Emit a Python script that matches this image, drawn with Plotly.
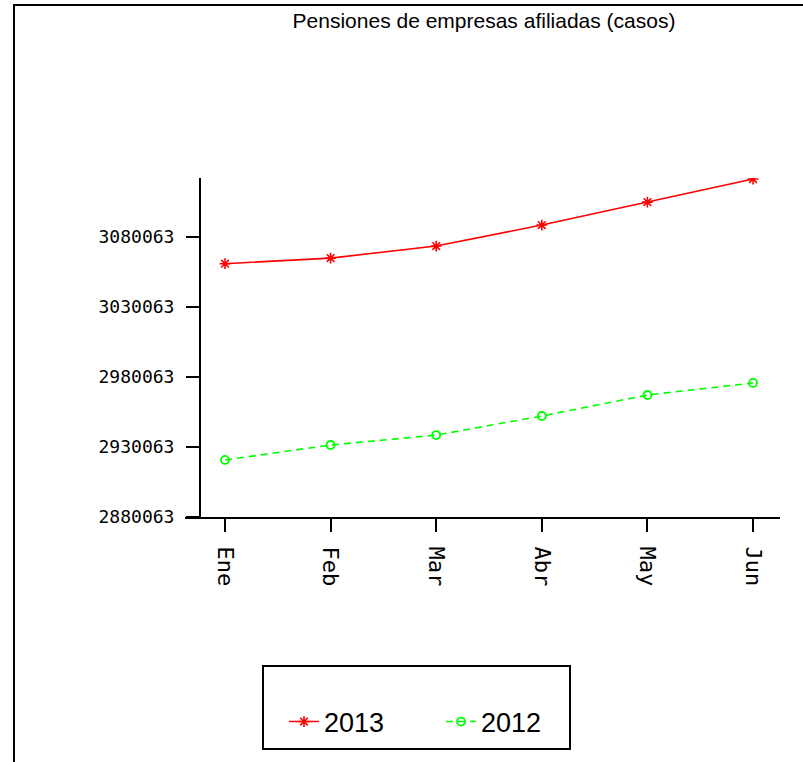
import plotly.graph_objects as go

# ---- data ----
months = ["Ene", "Feb", "Mar", "Abr", "May", "Jun"]
series_2013 = [3061000, 3065000, 3073600, 3088600, 3105000, 3121500]
series_2012 = [2920800, 2931500, 2938600, 2952200, 2967200, 2975800]
y_ticks = [2880063, 2930063, 2980063, 3030063, 3080063]
y_tick_labels = ["2880063", "2930063", "2980063", "3030063", "3080063"]
title_text = "Pensiones de empresas afiliadas (casos)"

# ---- layout geometry (pixels) ----
W, H = 803, 762
L, R, T, B = 185, 780, 178, 517
PW, PH = R - L, B - T


def px(x):
    return (x - L) / PW


def py(y):
    return (B - y) / PH


fig = go.Figure()
fig.add_trace(go.Scatter(
    x=months, y=series_2013, name="2013", mode="lines+markers",
    line=dict(color="#ff0000", width=1.6),
    marker=dict(symbol="asterisk-open", size=9, color="#ff0000",
                line=dict(color="#ff0000", width=1.6)),
))
fig.add_trace(go.Scatter(
    x=months, y=series_2012, name="2012", mode="lines+markers",
    line=dict(color="#00ff00", width=1.6, dash="7px,5px"),
    marker=dict(symbol="circle-open", size=8, color="#00ff00",
                line=dict(color="#00ff00", width=1.8)),
))

fig.update_layout(
    width=W, height=H,
    margin=dict(l=L, r=W - R, t=T, b=H - B, autoexpand=False),
    paper_bgcolor="white", plot_bgcolor="white",
    title=dict(text=title_text, x=484 / W, xanchor="center",
               y=1 - 21 / H, yanchor="middle", xref="container", yref="container",
               font=dict(family="Liberation Sans, Arial", size=21, color="black")),
    xaxis=dict(
        type="category", categoryorder="array", categoryarray=months,
        range=[-40 / 105.6, 5 + 27 / 105.6],
        showline=True, linecolor="black", linewidth=2,
        ticks="outside", ticklen=13, tickwidth=2, tickcolor="black",
        tickangle=90, showgrid=False, zeroline=False,
        tickfont=dict(family="DejaVu Sans Mono", size=22, color="black"),
        ticklabelstandoff=10,
    ),
    yaxis=dict(
        range=[2880063, 2880063 + PH * 50000 / 70],
        anchor="free", position=px(200),
        showline=True, linecolor="black", linewidth=2,
        ticks="outside", ticklen=13, tickwidth=2, tickcolor="black",
        tickvals=y_ticks, ticktext=y_tick_labels,
        showgrid=False, zeroline=False,
        tickfont=dict(family="DejaVu Sans Mono", size=18, color="black"),
        ticklabelstandoff=8,
    ),
    legend=dict(
        orientation="h", x=px(284), xanchor="left", y=py(722), yanchor="middle",
        bgcolor="rgba(0,0,0,0)", borderwidth=0,
        font=dict(family="Liberation Sans, Arial", size=27, color="black"),
        entrywidth=112, entrywidthmode="pixels",
    ),
    showlegend=True,
    shapes=[
        dict(type="rect", xref="paper", yref="paper",
             x0=px(263), x1=px(570), y0=py(749), y1=py(666),
             line=dict(color="black", width=2), fillcolor="rgba(0,0,0,0)"),
        dict(type="line", xref="paper", yref="paper",
             x0=px(14), x1=px(14), y0=py(5), y1=py(770),
             line=dict(color="black", width=2)),
        dict(type="line", xref="paper", yref="paper",
             x0=px(13), x1=px(810), y0=py(5), y1=py(5),
             line=dict(color="black", width=2)),
    ],
)

fig.write_html(
    "out.html",
    config={"displayModeBar": False},
    post_script="document.body.style.margin='0px';document.body.style.padding='0px';",
)
